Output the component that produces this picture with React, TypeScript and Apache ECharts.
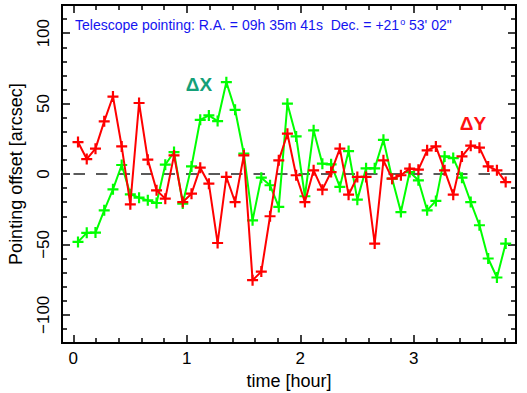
import React, { useEffect, useRef } from "react";
import * as echarts from "echarts";

// time [hour]
const times = [
  0.041, 0.118, 0.195, 0.272, 0.349, 0.426, 0.502, 0.579, 0.656, 0.733,
  0.81, 0.887, 0.964, 1.041, 1.118, 1.194, 1.271, 1.348, 1.425, 1.502,
  1.579, 1.656, 1.733, 1.81, 1.886, 1.963, 2.04, 2.117, 2.194, 2.271,
  2.348, 2.425, 2.502, 2.579, 2.655, 2.732, 2.809, 2.886, 2.963, 3.04,
  3.117, 3.194, 3.271, 3.347, 3.424, 3.501, 3.578, 3.655, 3.732, 3.809,
];

// ΔX pointing offset [arcsec]
const deltaX = [
  -48.2, -41.8, -41.6, -25.8, -10.9, 6.4, -14.4, -16.8, -18.7, -20.6,
  6.6, 15.6, -21, 5.4, 38.5, 41.6, 37.6, 65.2, 45.6, 14.4,
  -32.9, -2.6, -8, -23.4, 49.9, 26.7, -15.8, 31, 7.3, 6.9,
  -9.2, 16.3, -18.2, 4, 4, 24.3, -3.3, -27, 1.4, -4.5,
  -25.8, -19.1, 12.5, 11.3, -2.6, -19.9, -36.4, -60, -73.5, -49.4,
];

// ΔY pointing offset [arcsec]
const deltaY = [
  22.7, 10.6, 18, 37.4, 55, 19.6, -21.5, 50.4, 10.2, -11.6,
  -17.5, 13.2, -19.9, -14, 4.5, -6.9, -49, -2.1, -19.9, 13.2,
  -75.4, -69.3, -30, 9.7, 28.6, -0.9, -19.9, 2.6, -11.1, 1.4,
  18, -14.7, -2.1, -2.1, -49.4, 9.7, -3.3, -0.9, 3.8, 3.1,
  16.8, 19.6, 2.6, -14.7, 12.5, 20.1, 18.7, 5.4, 2.6, -5.7,
];

const xMajorTicks = [0, 1, 2, 3];
const xMinorTicks = [0.2, 0.4, 0.6, 0.8, 1.2, 1.4, 1.6, 1.8, 2.2, 2.4, 2.6, 2.8, 3.2, 3.4, 3.6, 3.8];
const yMajorTicks = [-100, -50, 0, 50, 100];
const yMinorTicks = [-110, -90, -80, -70, -60, -40, -30, -20, -10, 10, 20, 30, 40, 60, 70, 80, 90, 110];

const FONT = '"Liberation Sans", Arial, Helvetica, sans-serif';
const PLUS = "path://M4,0H6V4H10V6H6V10H4V6H0V4H4Z";

function tickAxis(kind: "x" | "y", position: string, values: number[], length: number) {
  const range = kind === "x" ? { min: -0.1, max: 3.9 } : { min: -120, max: 120 };
  return {
    type: "value",
    ...range,
    position,
    axisLine: { show: false, onZero: false },
    splitLine: { show: false },
    axisTick: {
      show: true,
      inside: true,
      length,
      customValues: values,
      lineStyle: { color: "#000", width: 1.5 },
    },
    axisLabel: { show: false },
  };
}

export default function App() {
  const ref = useRef<HTMLDivElement>(null);

  useEffect(() => {
    if (!ref.current) return;
    const chart = echarts.init(ref.current, undefined, { renderer: "svg" });

    const option: any = {
      animation: false,
      backgroundColor: "#fff",
      grid: {
        left: 62,
        right: 11,
        top: 5,
        bottom: 50,
        show: true,
        borderColor: "#000",
        borderWidth: 2,
        containLabel: false,
        outerBoundsMode: "none",
      },
      xAxis: [
        {
          type: "value",
          min: -0.1,
          max: 3.9,
          position: "bottom",
          axisLine: { show: false, onZero: false },
          splitLine: { show: false },
          axisTick: {
            show: true,
            inside: true,
            length: 8,
            customValues: xMajorTicks,
            lineStyle: { color: "#000", width: 1.5 },
          },
          axisLabel: {
            show: true,
            customValues: xMajorTicks,
            margin: 7,
            color: "#000",
            fontSize: 17,
            fontFamily: FONT,
          },
          name: "time [hour]",
          nameLocation: "middle",
          nameGap: 29,
          nameTextStyle: { color: "#000", fontSize: 18, fontFamily: FONT },
        },
        tickAxis("x", "bottom", xMinorTicks, 5),
        tickAxis("x", "top", xMajorTicks, 8),
        tickAxis("x", "top", xMinorTicks, 5),
      ],
      yAxis: [
        {
          type: "value",
          min: -120,
          max: 120,
          position: "left",
          axisLine: { show: false, onZero: false },
          splitLine: { show: false },
          axisTick: {
            show: true,
            inside: true,
            length: 8,
            customValues: yMajorTicks,
            lineStyle: { color: "#000", width: 1.5 },
          },
          axisLabel: {
            show: true,
            customValues: yMajorTicks,
            rotate: 90,
            margin: 10,
            color: "#000",
            fontSize: 17,
            fontFamily: FONT,
            formatter: (v: number) => String(v).replace("-", "\u2212"),
          },
          name: "Pointing offset [arcsec]",
          nameLocation: "middle",
          nameGap: 37,
          nameTextStyle: { color: "#000", fontSize: 18, fontFamily: FONT },
        },
        tickAxis("y", "left", yMinorTicks, 5),
        tickAxis("y", "right", yMajorTicks, 8),
        tickAxis("y", "right", yMinorTicks, 5),
      ],
      series: [
        {
          type: "line",
          name: "\u0394X",
          xAxisIndex: 0,
          yAxisIndex: 0,
          data: times.map((t, i) => [t, deltaX[i]]),
          symbol: PLUS,
          symbolSize: 11,
          lineStyle: { color: "#00ff00", width: 2 },
          itemStyle: { color: "#00ff00" },
          z: 2,
          markLine: {
            silent: true,
            symbol: "none",
            label: { show: false },
            lineStyle: { color: "#5a5a5a", width: 2, type: [11.5, 11], dashOffset: 11.3 },
            data: [{ yAxis: 0 }],
            z: 1,
          },
        },
        {
          type: "line",
          name: "\u0394Y",
          xAxisIndex: 0,
          yAxisIndex: 0,
          data: times.map((t, i) => [t, deltaY[i]]),
          symbol: PLUS,
          symbolSize: 11,
          lineStyle: { color: "#ff0000", width: 2 },
          itemStyle: { color: "#ff0000" },
          z: 3,
        },
      ],
      graphic: [
        {
          type: "text",
          x: 75,
          y: 25,
          style: {
            text: "Telescope pointing: R.A. = 09h 35m 41s  Dec. = +21{sup|o} 53' 02\"",
            fill: "#1414f0",
            font: `14px ${FONT}`,
            align: "left",
            verticalAlign: "middle",
            rich: {
              sup: { fontSize: 9, fontFamily: FONT, fill: "#1414f0", verticalAlign: "top", padding: [0, 0, 6, 1] },
            },
          },
        },
        {
          type: "text",
          x: 199,
          y: 84,
          style: {
            text: "\u0394X",
            fill: "#14a078",
            font: `bold 19px ${FONT}`,
            align: "center",
            verticalAlign: "middle",
          },
        },
        {
          type: "text",
          x: 473,
          y: 123,
          style: {
            text: "\u0394Y",
            fill: "#ff1010",
            font: `bold 19px ${FONT}`,
            align: "center",
            verticalAlign: "middle",
          },
        },
      ],
    };

    chart.setOption(option);
    return () => chart.dispose();
  }, []);

  return (
    <div
      ref={ref}
      style={{ position: "fixed", left: 0, top: 0, width: 527, height: 393, background: "#fff" }}
    />
  );
}
